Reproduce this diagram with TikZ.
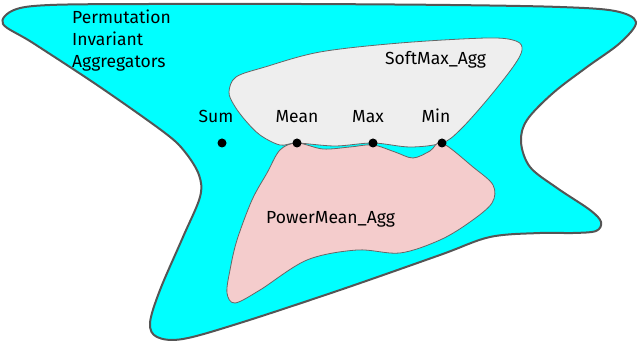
\documentclass[tikz,border=0pt]{standalone}
\usepackage{fontspec}
\setmainfont{Fira Sans}
\definecolor{cyanfill}{HTML}{00FFFF}
\definecolor{outline}{HTML}{555555}
\definecolor{softfill}{HTML}{EEEEEE}
\definecolor{powfill}{HTML}{F4CCCC}
\definecolor{inline}{HTML}{666666}
\tikzset{
  lbl/.style={font=\fontsize{17.5}{21}\selectfont, inner sep=0pt},
  pdot/.style={circle, fill=black, inner sep=0pt, minimum size=9pt},
  outerset/.style={draw=outline, line width=2pt, fill=cyanfill},
  innerset/.style={draw=inline, line width=0.8pt},
}
\begin{document}
\begin{tikzpicture}[x=1pt,y=-1pt]
\useasboundingbox (0,0) rectangle (640,344);
% outer set
\draw[outerset] plot[smooth cycle, tension=0.55] coordinates {
 (3,24) (14,10) (50,5) (150,4) (300,4) (450,5) (560,7) (615,11) (636,22)
 (620,43) (587,67) (553,93) (527,120) (521,142) (530,167) (557,188)
 (590,210) (601,222) (596,231) (573,233) (540,233) (490,237) (440,255)
 (340,290) (240,323) (183,339) (157,337) (150,323) (160,290) (183,237)
 (200,197) (199,175) (185,152) (165,133) (100,87) (33,43)};
% softmax set
\draw[innerset, fill=softfill] plot[smooth cycle, tension=0.55] coordinates {
 (229,92) (236,77) (265,67) (320,52) (400,43) (487,38) (516,41) (522,50)
 (513,67) (487,100) (460,130) (442,143) (410,147) (373,143) (335,146)
 (297,143) (280,145) (260,135) (245,120) (234,105)};
% powermean set
\draw[innerset, fill=powfill] plot[smooth cycle, tension=0.55] coordinates {
 (280,150) (297,143) (323,149) (350,147) (373,145) (395,152) (413,158)
 (430,151) (442,143) (473,167) (493,185) (492,203) (470,222) (440,240)
 (400,253) (357,250) (307,260) (260,290) (235,303) (227,293) (230,270)
 (237,240) (252,200) (267,173)};
% labels
\node[lbl, anchor=base west] (t1) at (72,24) {Permutation};
\node[lbl, anchor=base west] (t2) at (72,46) {Invariant};
\node[lbl, anchor=base west] (t3) at (72,68) {Aggregators};
\node[lbl, anchor=base west] (soft) at (385,65) {SoftMax\_Agg};
\node[lbl, anchor=base west] (pow) at (266,224) {PowerMean\_Agg};
% points
\node[pdot] (sum) at (222,143) {};
\node[pdot] (mean) at (297,143) {};
\node[pdot] (max) at (373,143) {};
\node[pdot] (min) at (442,143) {};
\node[lbl, anchor=base] (sumL) at (216,123) {Sum};
\node[lbl, anchor=base] (meanL) at (297,123) {Mean};
\node[lbl, anchor=base] (maxL) at (368,123) {Max};
\node[lbl, anchor=base] (minL) at (436,123) {Min};
\end{tikzpicture}
\end{document}
